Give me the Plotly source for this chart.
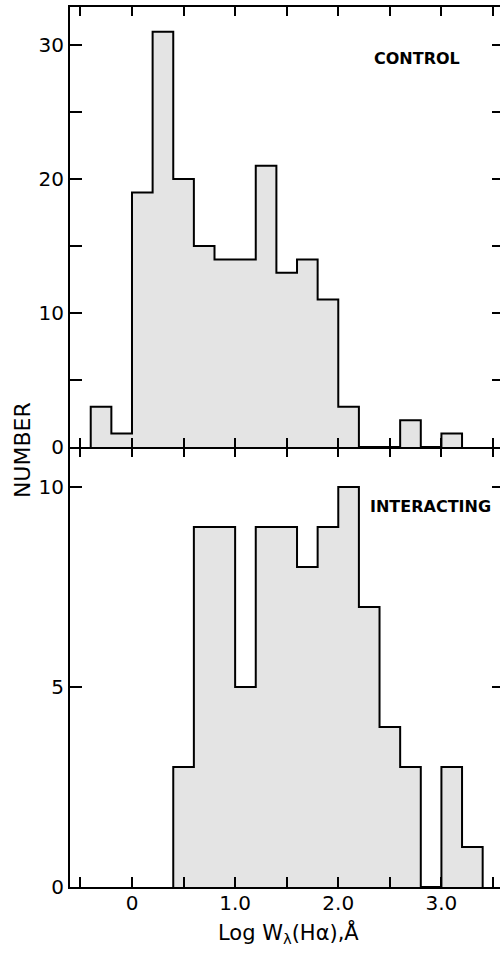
import plotly.graph_objects as go

# Histogram of log H-alpha equivalent widths, bins of 0.2 dex starting at -0.4
bin_start = -0.4
bin_width = 0.2
control_counts = [3, 1, 19, 31, 20, 15, 14, 14, 21, 13, 14, 11, 3, 0, 0, 2, 0, 1, 0]
interacting_counts = [0, 0, 0, 0, 3, 9, 9, 5, 9, 9, 8, 9, 10, 7, 4, 3, 0, 3, 1]

x_label_vals = [0, 1.0, 2.0, 3.0]
x_label_text = ["0", "1.0", "2.0", "3.0"]
x_minor_vals = [-0.5, 0.5, 1.5, 2.5, 3.5]
x_all_ticks = sorted(x_label_vals + x_minor_vals)
top_y_labels = [0, 10, 20, 30]
top_y_minor = [5, 15, 25]
bottom_y_labels = [0, 5, 10]

X_RANGE = [-0.601, 3.568]
TOP_RANGE = [0, 32.84]
BOTTOM_RANGE = [0, 11]

FONT = "DejaVu Sans"
FILL = "#e4e4e4"
INK = "black"


def step_outline(counts):
    """Outer outline of a histogram between its first and last filled bins."""
    filled = [i for i, c in enumerate(counts) if c > 0]
    lo, hi = filled[0], filled[-1]
    edge = lambda i: bin_start + i * bin_width
    xs, ys = [edge(lo)], [0]
    for i in range(lo, hi + 1):
        xs += [edge(i), edge(i + 1)]
        ys += [counts[i], counts[i]]
    xs.append(edge(hi + 1))
    ys.append(0)
    return xs, ys


fig = go.Figure()

cx, cy = step_outline(control_counts)
fig.add_trace(go.Scatter(x=cx, y=cy, mode="lines", fill="tozeroy",
                         fillcolor=FILL, line=dict(color=INK, width=2),
                         xaxis="x2", yaxis="y2", showlegend=False,
                         hoverinfo="skip"))

ix, iy = step_outline(interacting_counts)
fig.add_trace(go.Scatter(x=ix, y=iy, mode="lines", fill="tozeroy",
                         fillcolor=FILL, line=dict(color=INK, width=2),
                         xaxis="x", yaxis="y", showlegend=False,
                         hoverinfo="skip"))

# invisible anchors for the extra tick-only axes
for xa, ya in [("x3", "y2"), ("x", "y3"), ("x2", "y4")]:
    fig.add_trace(go.Scatter(x=[0], y=[0], mode="markers",
                             marker=dict(opacity=0), xaxis=xa, yaxis=ya,
                             showlegend=False, hoverinfo="skip"))

common = dict(showgrid=False, zeroline=False, tickcolor=INK, tickwidth=2)
tick_font = dict(size=20, family=FONT)

fig.update_layout(
    width=500, height=953,
    margin=dict(l=70, r=0, t=7, b=66),
    paper_bgcolor="white", plot_bgcolor="white",
    font=dict(family=FONT, color=INK),
    xaxis=dict(**common, range=X_RANGE, anchor="y",
               tickvals=x_label_vals, ticktext=x_label_text,
               ticks="inside", ticklen=10, showline=True, linewidth=2,
               linecolor=INK, tickfont=tick_font, ticklabelstandoff=-3,
               minor=dict(tickvals=x_minor_vals, ticks="inside", ticklen=10,
                          tickwidth=2, tickcolor=INK, showgrid=False)),
    xaxis2=dict(**common, range=X_RANGE, anchor="y2", tickvals=x_all_ticks,
                ticks="inside", ticklen=9, showline=True, linewidth=2,
                linecolor=INK, mirror="ticks", showticklabels=False),
    xaxis3=dict(**common, range=X_RANGE, anchor="y2", overlaying="x2",
                tickvals=x_all_ticks, ticks="outside", ticklen=9,
                showline=False, showticklabels=False),
    yaxis=dict(**common, domain=[0, 0.5], anchor="x", range=BOTTOM_RANGE,
               tickvals=bottom_y_labels, ticks="inside", ticklen=12,
               showline=True, linewidth=2, linecolor=INK,
               tickfont=tick_font),
    yaxis2=dict(**common, domain=[0.5, 1], anchor="x2", range=TOP_RANGE,
                tickvals=top_y_labels, ticks="inside", ticklen=12,
                showline=True, linewidth=2, linecolor=INK,
                tickfont=tick_font,
                minor=dict(tickvals=top_y_minor, ticks="inside", ticklen=12,
                           tickwidth=2, tickcolor=INK, showgrid=False)),
    yaxis3=dict(**common, overlaying="y", anchor="x", side="right",
                range=BOTTOM_RANGE, tickvals=[5, 10], ticks="inside",
                ticklen=8, showline=False, showticklabels=False),
    yaxis4=dict(**common, overlaying="y2", anchor="x2", side="right",
                range=TOP_RANGE, tickvals=sorted(top_y_labels[1:] + top_y_minor),
                ticks="inside", ticklen=8, showline=False,
                showticklabels=False),
)

fig.add_annotation(text="<b>CONTROL</b>", xref="x2", yref="y2",
                   x=2.763, y=29.0, showarrow=False,
                   font=dict(size=16, family=FONT))
fig.add_annotation(text="<b>INTERACTING</b>", xref="x", yref="y",
                   x=2.89, y=9.52, showarrow=False,
                   font=dict(size=16, family=FONT))
fig.add_annotation(text="NUMBER", xref="paper", yref="paper",
                   x=-0.109, y=0.4966, textangle=-90, showarrow=False,
                   xanchor="center", yanchor="middle",
                   font=dict(size=22, family=FONT))
fig.add_annotation(text="Log W<sub>λ</sub>(Hα),Å", xref="paper",
                   yref="paper", x=0.509, y=-0.052, showarrow=False,
                   xanchor="center", yanchor="middle",
                   font=dict(size=21, family=FONT))

fig.write_html("out.html")
